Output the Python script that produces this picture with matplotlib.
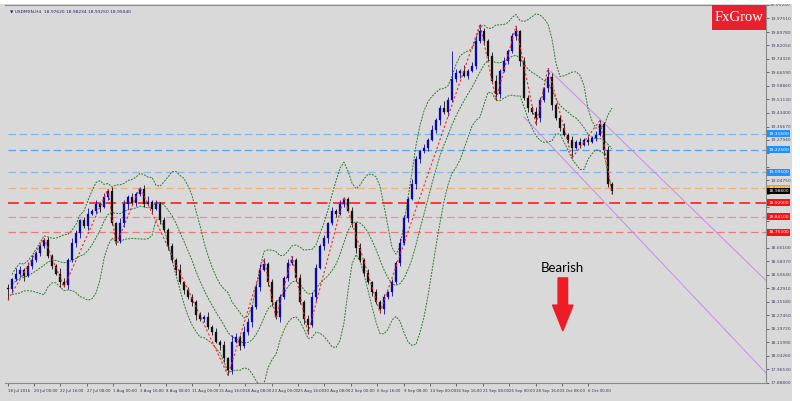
import numpy as np
import pandas as pd
import matplotlib
matplotlib.use("Agg")
import matplotlib.pyplot as plt
from matplotlib.patches import FancyArrow, Rectangle

# USDMXN H4 closes (one bar here ~ 2.3 H4 bars)
closes = [18.424, 18.481, 18.514, 18.537, 18.503, 18.559, 18.593, 18.633, 18.672, 18.706,
          18.616, 18.559, 18.514, 18.469, 18.447, 18.593, 18.689, 18.746, 18.819, 18.785,
          18.858, 18.875, 18.915, 18.898, 18.954, 18.988, 18.802, 18.700, 18.802, 18.915,
          18.954, 18.920, 18.971, 18.999, 18.915, 18.926, 18.887, 18.915, 18.819, 18.763,
          18.672, 18.593, 18.537, 18.464, 18.418, 18.379, 18.351, 18.277, 18.255, 18.266,
          18.210, 18.182, 18.125, 18.108, 18.029, 17.962, 18.125, 18.153, 18.097, 18.182,
          18.238, 18.323, 18.435, 18.537, 18.571, 18.464, 18.351, 18.266, 18.379, 18.492,
          18.576, 18.593, 18.492, 18.351, 18.255, 18.221, 18.379, 18.548, 18.672, 18.717,
          18.802, 18.875, 18.858, 18.915, 18.943, 18.875, 18.802, 18.661, 18.593, 18.520,
          18.464, 18.407, 18.351, 18.311, 18.379, 18.407, 18.464, 18.576, 18.689, 18.830,
          18.943, 19.028, 19.169, 19.214, 19.236, 19.281, 19.338, 19.394, 19.462, 19.439,
          19.507, 19.631, 19.665, 19.676, 19.648, 19.676, 19.704, 19.845, 19.902, 19.845,
          19.761, 19.620, 19.541, 19.676, 19.733, 19.789, 19.874, 19.902, 19.733, 19.518,
          19.462, 19.439, 19.405, 19.507, 19.575, 19.642, 19.479, 19.405, 19.349, 19.310,
          19.281, 19.236, 19.270, 19.253, 19.281, 19.270, 19.293, 19.310, 19.372, 19.225,
          19.028, 18.988]

# wick lengths above / below the body, in 0.01
hi_w = [2, 1, 3, 2, 1, 2, 3, 1, 2, 1, 2, 1, 1, 3, 2, 1, 3, 2, 1, 2,
        3, 1, 2, 1, 2, 1, 2, 1, 3, 2, 1, 2, 1, 1, 2, 3, 1, 2, 1, 2,
        1, 2, 1, 3, 1, 2, 2, 1, 2, 1, 3, 1, 2, 1, 2, 1, 4, 2, 1, 3,
        2, 1, 2, 3, 3, 1, 2, 1, 2, 1, 2, 2, 1, 2, 1, 2, 3, 2, 1, 2,
        1, 2, 1, 2, 1, 1, 2, 1, 3, 1, 2, 1, 2, 1, 2, 1, 2, 1, 3, 2,
        1, 3, 2, 1, 2, 1, 3, 1, 2, 4, 2, 16, 2, 1, 3, 1, 2, 3, 4, 2,
        1, 2, 3, 1, 2, 1, 2, 3, 1, 2, 2, 1, 3, 2, 1, 5, 2, 1, 2, 3,
        1, 2, 1, 2, 1, 2, 1, 2, 2, 1, 2, 1]
lo_w = [6, 2, 1, 2, 3, 1, 2, 1, 2, 1, 1, 2, 1, 3, 1, 2, 1, 2, 3, 1,
        2, 1, 2, 3, 1, 2, 1, 2, 1, 2, 3, 1, 2, 1, 2, 1, 3, 1, 2, 1,
        2, 1, 3, 1, 2, 1, 2, 3, 1, 2, 1, 2, 1, 3, 2, 3, 2, 1, 2, 1,
        2, 3, 1, 2, 1, 2, 2, 1, 3, 1, 2, 1, 2, 1, 3, 5, 1, 2, 1, 2,
        3, 1, 2, 1, 2, 1, 2, 3, 1, 2, 1, 2, 1, 2, 3, 1, 2, 1, 2, 1,
        2, 1, 3, 2, 1, 2, 1, 2, 3, 1, 2, 1, 2, 3, 1, 2, 1, 2, 1, 2,
        3, 1, 3, 2, 1, 2, 1, 2, 3, 1, 2, 1, 4, 2, 1, 2, 3, 1, 2, 1,
        2, 6, 1, 2, 1, 2, 1, 2, 1, 3, 2, 2]

# zigzag swing points (bar, H/L)
zz_bars = [0, 9, 14, 25, 27, 33, 55, 64, 67, 71, 75, 84, 93, 118, 122, 127, 132, 135, 141, 148, 151]
zz_kind = ["L", "H", "L", "H", "L", "H", "L", "H", "L", "H", "L", "H", "L", "H", "L", "H", "L", "H", "L", "H", "L"]

# horizontal levels
levels = [19.315, 19.225, 19.095, 19.005, 18.920, 18.841, 18.751]
level_line_colors = ["#7fb6ec", "#5aa2f0", "#8db9e6", "#eab27a", "#ff2a2a", "#ee9090", "#e47c7c"]
level_box_colors = ["#1e8fff", "#1e8fff", "#1e8fff", "#ff9a00", "#ff1010", "#ff1010", "#ff1010"]

# trend lines (bar, price)
trend_upper = [(135.5, 19.676), (189.5, 18.475)]
trend_lower = [(129.0, 19.410), (189.5, 17.945)]

date_labels = ["18 Jul 2016", "20 Jul 00:00", "22 Jul 16:00", "27 Jul 08:00", "1 Aug 00:00",
               "3 Aug 16:00", "8 Aug 08:00", "11 Aug 00:00", "15 Aug 16:00", "18 Aug 08:00",
               "23 Aug 00:00", "25 Aug 16:00", "30 Aug 08:00", "2 Sep 00:00", "6 Sep 16:00",
               "9 Sep 08:00", "14 Sep 00:00", "16 Sep 16:00", "21 Sep 08:00", "26 Sep 00:00",
               "28 Sep 16:00", "3 Oct 08:00", "6 Oct 00:00"]

c = np.array(closes)
o = np.r_[c[0] + 0.01, c[:-1]]
h = np.maximum(o, c) + np.array(hi_w) / 100
l = np.minimum(o, c) - np.array(lo_w) / 100
x = np.arange(len(c))

s = pd.Series(c)
mid = s.rolling(10, min_periods=2).mean()
sd = s.rolling(10, min_periods=2).std(ddof=0)
bb_up = mid + 2 * sd
bb_dn = mid - 2 * sd

bg = "#d9d9d9"
fig = plt.figure(figsize=(8, 4.01), dpi=100, facecolor=bg)
# white screenshot edges
fig.patches.append(Rectangle((0, 397 / 401), 1, 4 / 401, transform=fig.transFigure,
                             facecolor="white", edgecolor="none"))
fig.patches.append(Rectangle((792 / 800, 0), 8 / 800, 1, transform=fig.transFigure,
                             facecolor="white", edgecolor="none"))
ax = fig.add_axes([5 / 800, 18 / 401, 761 / 800, 378 / 401])
ax.set_facecolor(bg)
ax.set_xlim(-0.75, 189.5)
ax.set_ylim(17.911, 20.043)

# levels
for lv, lc in zip(levels, level_line_colors):
    lw = 1.3 if lc == "#ff2a2a" else 0.9
    ax.axhline(lv, xmin=0.004, color=lc, lw=lw, ls=(0, (6, 3)), zorder=1)

# trend lines
for tl in (trend_upper, trend_lower):
    ax.plot([tl[0][0], tl[1][0]], [tl[0][1], tl[1][1]], color="#cc8ae8", lw=0.7, zorder=2)

# bollinger bands
for band in (mid, bb_up, bb_dn):
    ax.plot(x, band, color="#2d7a2d", lw=0.7, ls=(0, (2, 1.2)), zorder=2)

# candles
up = c >= o
cols = np.where(up, "#0a0aa0", "#111111")
ax.vlines(x, l, h, colors=cols, lw=0.6, zorder=3)
body = np.maximum(np.abs(c - o), 0.004)
ax.bar(x, body, bottom=np.minimum(o, c), width=0.4, color=cols, edgecolor=cols, lw=0.2, zorder=4)

# zigzag
zz_p = [h[b] if k == "H" else l[b] for b, k in zip(zz_bars, zz_kind)]
ax.plot(zz_bars, zz_p, color="#ff2020", lw=0.8, ls=(0, (2, 2)), zorder=5)

# right price scale (labels hidden where a level box sits)
boxed = levels + [c[-1]]
ax.yaxis.tick_right()
ticks = 17.888 + 0.0773 * np.arange(29)
ax.set_yticks(ticks)
ax.set_yticklabels(["" if min(abs(t - b) for b in boxed) < 0.03 else f"{t:.5f}" for t in ticks])
ax.tick_params(axis="y", length=2, width=0.6, pad=1, labelsize=3.2, labelcolor="#444466", colors="#555555")

yt = ax.get_yaxis_transform()
for lv, bc in zip(levels, level_box_colors):
    ax.text(1.003, lv, f"{lv:.5f}", transform=yt, fontsize=3.2, color="white", va="center", ha="left",
            bbox=dict(boxstyle="square,pad=0.3", fc=bc, ec="none"), zorder=10, clip_on=False)
ax.text(1.003, c[-1], f"{c[-1]:.5f}", transform=yt, fontsize=3.2, color="white", va="center", ha="left",
        bbox=dict(boxstyle="square,pad=0.3", fc="black", ec="none"), zorder=10, clip_on=False)

# time scale
xt = np.arange(len(date_labels)) * 6.6 - 0.1
ax.set_xticks(xt)
ax.set_xticklabels(date_labels)
for lb in ax.get_xticklabels():
    lb.set_ha("left")
ax.tick_params(axis="x", length=2.5, width=0.6, pad=1.5, labelsize=2.8, labelcolor="#333355", colors="#555555")

ax.spines["left"].set_visible(False)
for side in ("top", "right", "bottom"):
    ax.spines[side].set_color("#8a8a8a")
    ax.spines[side].set_linewidth(0.8)

# header
ax.text(0.006, 0.988, "\u25bc USDMXN,H4  18.97620 18.98234 18.93250 18.95040", transform=ax.transAxes,
        fontsize=3.2, color="#222266", va="top", ha="left")

# logo
ax.add_patch(Rectangle((0.929, 0.935), 0.0705, 0.065, transform=ax.transAxes, facecolor="#e8212e",
                       edgecolor="none", zorder=12, clip_on=False))
ax.text(0.964, 0.967, "FxGrow", transform=ax.transAxes, fontsize=10.5, family="Liberation Serif",
        color="white", ha="center", va="center", zorder=13)

# bearish call
ax.text(0.733, 0.304, "Bearish", transform=ax.transAxes, fontsize=9.5, family="Lato",
        color="black", ha="center", va="center", zorder=12)
ax.add_patch(FancyArrow(0.733, 0.278, 0, -0.14, width=0.0125, head_width=0.027, head_length=0.068,
                        length_includes_head=True, transform=ax.transAxes, color="#ee1c25", zorder=12))

fig.savefig("out.png", dpi=100, facecolor=fig.get_facecolor())
